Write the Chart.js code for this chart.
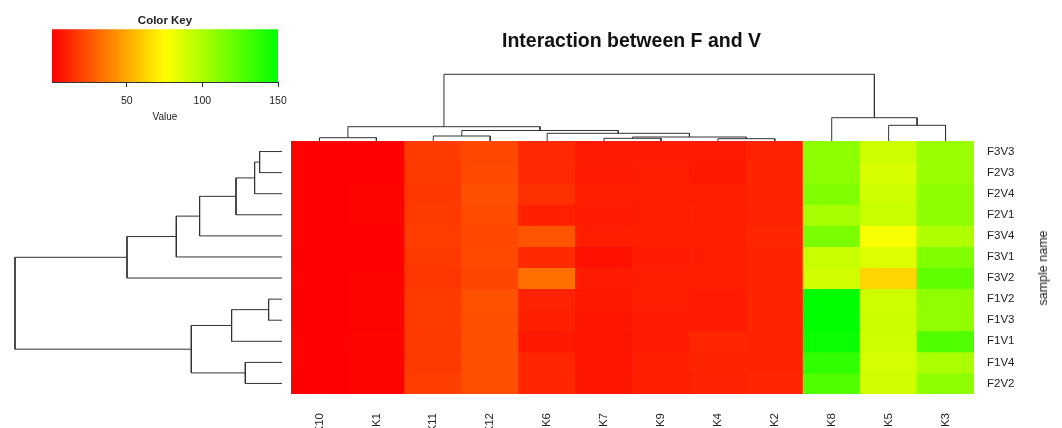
<!DOCTYPE html>
<html>
<head>
<meta charset="utf-8">
<script src="https://cdn.jsdelivr.net/npm/chart.js@4"></script>
<style>
  body { margin: 0; background: #fff; width: 1062px; height: 428px; position: relative; overflow: hidden;
         font-family: "Liberation Sans", Arial, sans-serif; }
  canvas { position: absolute; }
  #title { position: absolute; left: 0; width: 1263px; top: 30px; line-height: 20px; text-align: center;
           font-weight: bold; font-size: 19.5px; color: #111; }
  #ylab { position: absolute; left: 1043px; top: 268px; white-space: nowrap; font-size: 12.5px; color: #222;
          transform: translate(-50%, -50%) rotate(-90deg); }
</style>
</head>
<body>
<canvas id="heat" width="1062" height="428" style="left:0;top:0"></canvas>
<canvas id="coltree" width="683" height="81" style="left:291px;top:60px"></canvas>
<canvas id="rowtree" width="282" height="253" style="left:0;top:141px"></canvas>
<canvas id="key" width="300" height="128" style="left:0;top:0"></canvas>
<div id="title">Interaction between F and V</div>
<div id="ylab">sample name</div>
<script>
"use strict";
// columns and rows in the order they are drawn (after clustering)
const colNames = ["K10", "K1", "K11", "K12", "K6", "K7", "K9", "K4", "K2", "K8", "K5", "K3"];
const rowNames = ["F3V3", "F2V3", "F2V4", "F2V1", "F3V4", "F3V1", "F3V2", "F1V2", "F1V3", "F1V1", "F1V4", "F2V2"];

// one array per row, values for colNames
const heatRows = [
  [0.8, 1.2, 18.0, 21.7, 12.3, 8.2, 8.8, 8.2, 10.6, 109.0, 90.0, 105.0],
  [0.8, 1.3, 17.5, 22.3, 12.5, 8.8, 9.4, 7.6, 11.1, 109.0, 86.7, 105.0],
  [0.9, 1.4, 17.0, 24.0, 14.7, 9.4, 9.4, 9.4, 11.1, 112.5, 90.0, 109.0],
  [0.8, 1.5, 18.0, 23.0, 10.0, 8.8, 9.4, 10.0, 10.6, 101.4, 91.4, 109.0],
  [0.9, 1.3, 18.6, 21.7, 25.5, 9.4, 10.0, 10.0, 11.7, 114.0, 77.4, 98.4],
  [0.7, 1.2, 17.6, 22.3, 13.0, 5.3, 8.8, 9.4, 11.1, 91.4, 85.3, 112.5],
  [0.8, 1.6, 16.5, 21.0, 33.4, 8.8, 9.4, 9.4, 11.1, 88.5, 62.7, 121.9],
  [0.7, 1.4, 18.0, 24.6, 10.6, 7.6, 9.4, 8.2, 11.1, 150.0, 90.0, 107.8],
  [0.6, 1.5, 18.0, 24.0, 10.0, 7.0, 8.8, 8.2, 11.1, 150.0, 90.5, 107.5],
  [0.8, 1.7, 17.6, 24.0, 7.6, 6.5, 8.8, 11.7, 11.1, 147.0, 90.0, 126.6],
  [0.9, 1.6, 17.6, 24.0, 11.7, 6.5, 9.4, 11.1, 11.1, 136.0, 87.9, 100.2],
  [0.7, 1.6, 19.2, 24.0, 11.7, 7.0, 9.4, 10.6, 11.7, 126.6, 89.0, 109.0],
];

// dendrograms, hclust style: negative = leaf (1-based display position), positive = earlier merge
const colMerge = [[-1, -2], [-3, -4], [-6, -7], [-8, -9], [3, 4], [-5, 5], [2, 6], [1, 7], [-11, -12], [-10, 9], [8, 10]];
const colHeight = [3.3, 5.0, 2.7, 2.3, 4.0, 7.7, 10.5, 14.3, 15.7, 23.3, 66.7];
const rowMerge = [[-1, -2], [1, -3], [2, -4], [3, -5], [4, -6], [5, -7], [-8, -9], [7, -10], [-11, -12], [8, 9], [6, 10]];
const rowHeight = [22.4, 27.4, 46.0, 82.4, 105.7, 155.0, 13.4, 50.4, 36.7, 90.7, 267.0];

// colour key
const keyMin = 0.6;
const keyMax = 150;
const keyTicks = [50, 100, 150];

const textColor = "#222";
const lineColor = "#333";
const fontFamily = "'Liberation Sans', Arial, sans-serif";

function heatColor(v) {
  const t = Math.min(Math.max((v - keyMin) / (keyMax - keyMin), 0), 1);
  if (t < 0.5) return `rgb(255,${Math.round(510 * t)},0)`;
  return `rgb(${Math.round(510 * (1 - t))},255,0)`;
}

// heatmap
new Chart(document.getElementById("heat"), {
  type: "bar",
  data: {
    labels: colNames,
    datasets: rowNames.map((name, i) => ({
      label: name,
      data: colNames.map(() => [rowNames.length - 1 - i, rowNames.length - i]),
      backgroundColor: heatRows[i].map(heatColor),
      borderWidth: 0,
      barPercentage: 1,
      categoryPercentage: 1,
      grouped: false,
      inflateAmount: 0.5,
    })),
  },
  options: {
    responsive: false,
    animation: false,
    layout: { padding: { left: 291, top: 141, right: 18, bottom: 0 } },
    plugins: { legend: { display: false }, tooltip: { enabled: false }, title: { display: false } },
    scales: {
      x: {
        type: "category",
        grid: { display: false },
        border: { display: false },
        ticks: {
          minRotation: 90, maxRotation: 90, autoSkip: false, padding: 11,
          color: textColor, font: { family: fontFamily, size: 11.5 },
        },
        afterFit(s) { s.height = 34; },
      },
      y: {
        type: "linear",
        position: "right",
        min: 0,
        max: rowNames.length,
        grid: { display: false },
        border: { display: false },
        afterBuildTicks(s) {
          s.ticks = rowNames.map((n, i) => ({ value: rowNames.length - 0.5 - i }));
        },
        ticks: {
          autoSkip: false, padding: 5,
          color: textColor, font: { family: fontFamily, size: 11.5 },
          callback: (v, i) => rowNames[i],
        },
        afterFit(s) { s.width = 70; },
      },
    },
  },
});

// turn merge table into one bracket path per merge
function treePaths(merge, height, leafPos) {
  const pos = [];
  const paths = [];
  const nodeOf = (k) => (k < 0 ? { p: leafPos(-k - 1), h: 0 } : pos[k - 1]);
  merge.forEach(([a, b], i) => {
    const na = nodeOf(a);
    const nb = nodeOf(b);
    const h = height[i];
    pos.push({ p: (na.p + nb.p) / 2, h: h });
    paths.push([[na.p, na.h], [na.p, h], [nb.p, h], [nb.p, nb.h]]);
  });
  return paths;
}

function treeDatasets(paths, vertical) {
  return paths.map((pts) => ({
    data: pts.map(([p, h]) => (vertical ? { x: p, y: h } : { x: h, y: p })),
    showLine: true,
    borderColor: lineColor,
    borderWidth: 1,
    pointRadius: 0,
    tension: 0,
    fill: false,
    clip: false,
  }));
}

const hiddenAxes = (x, y) => ({
  x: Object.assign({ type: "linear", display: false }, x),
  y: Object.assign({ type: "linear", display: false }, y),
});

const treeBase = {
  responsive: false,
  animation: false,
  layout: { padding: 0 },
  plugins: { legend: { display: false }, tooltip: { enabled: false } },
};

// column dendrogram (top)
new Chart(document.getElementById("coltree"), {
  type: "scatter",
  data: { datasets: treeDatasets(treePaths(colMerge, colHeight, (i) => i), true) },
  options: Object.assign({}, treeBase, {
    scales: hiddenAxes({ min: -0.5, max: colNames.length - 0.5 }, { min: 0, max: 81 }),
  }),
});

// row dendrogram (left)
new Chart(document.getElementById("rowtree"), {
  type: "scatter",
  data: { datasets: treeDatasets(treePaths(rowMerge, rowHeight, (i) => i), false) },
  options: Object.assign({}, treeBase, {
    scales: hiddenAxes({ min: 0, max: 282, reverse: true }, { min: -0.5, max: rowNames.length - 0.5, reverse: true }),
  }),
});

// colour key
new Chart(document.getElementById("key"), {
  type: "bar",
  data: {
    labels: ["Value"],
    datasets: [{
      data: [[keyMin, keyMax]],
      barPercentage: 1,
      categoryPercentage: 1,
      borderWidth: 0,
      backgroundColor(ctx) {
        const chart = ctx.chart;
        if (!chart.chartArea) return "#ff0";
        const sx = chart.scales.x;
        const g = chart.ctx.createLinearGradient(sx.getPixelForValue(keyMin), 0, sx.getPixelForValue(keyMax), 0);
        g.addColorStop(0, "#ff0000");
        g.addColorStop(0.5, "#ffff00");
        g.addColorStop(1, "#00ff00");
        return g;
      },
    }],
  },
  options: {
    indexAxis: "y",
    responsive: false,
    animation: false,
    layout: { padding: { left: 52, right: 22, top: 0, bottom: 0 } },
    plugins: {
      legend: { display: false },
      tooltip: { enabled: false },
      title: {
        display: true, text: "Color Key", color: textColor,
        font: { family: fontFamily, size: 11.5, weight: "bold" },
        padding: { top: 14, bottom: 1.5 },
      },
    },
    scales: {
      x: {
        type: "linear",
        min: keyMin,
        max: keyMax,
        afterBuildTicks(s) { s.ticks = keyTicks.map((v) => ({ value: v })); },
        grid: { drawOnChartArea: false, drawTicks: true, tickLength: 5, color: lineColor },
        border: { display: true, color: lineColor },
        ticks: { color: textColor, padding: 8, font: { family: fontFamily, size: 10.5 } },
        title: { display: true, text: "Value", color: textColor, font: { family: fontFamily, size: 10 },
                 padding: { top: 2, bottom: 5 } },
        afterFit(s) { s.height = 46; },
      },
      y: { type: "category", display: false },
    },
  },
});
</script>
</body>
</html>
